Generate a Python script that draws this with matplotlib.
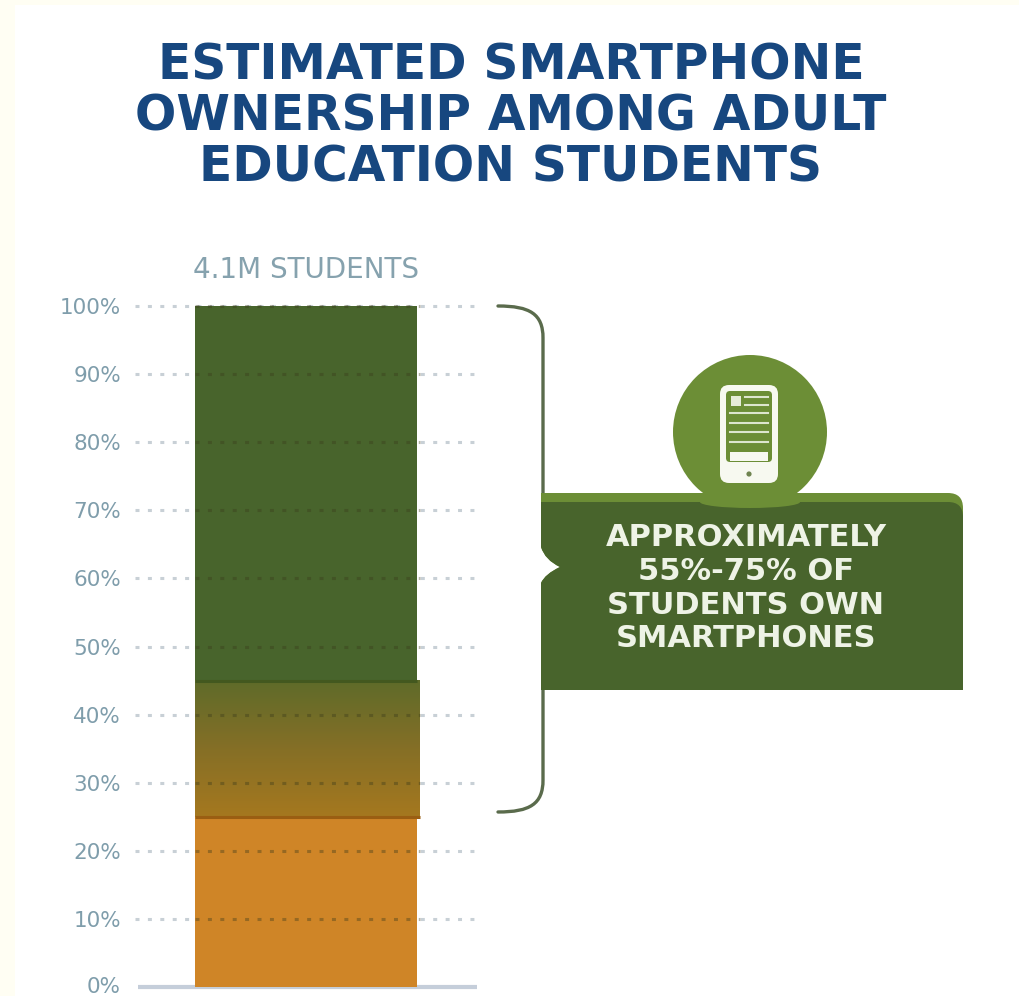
import numpy as np
import matplotlib
matplotlib.use("Agg")
import matplotlib.pyplot as plt
from matplotlib.colors import LinearSegmentedColormap
from matplotlib.patches import Circle, Ellipse, FancyBboxPatch, PathPatch, Rectangle
from matplotlib.path import Path
from matplotlib.transforms import ScaledTranslation

# ---------- data ----------
title_lines = ["ESTIMATED SMARTPHONE", "OWNERSHIP AMONG ADULT", "EDUCATION STUDENTS"]
category = ["4.1M STUDENTS"]
tick_values = [0, 10, 20, 30, 40, 50, 60, 70, 80, 90, 100]
tick_labels = ["0%", "10%", "20%", "30%", "40%", "50%", "60%", "70%", "80%", "90%", "100%"]
no_phone_top = 25
uncertain_top = 45
total = 100
brace_low = 25.7
callout_lines = ["APPROXIMATELY", "55%-75% OF", "STUDENTS OWN", "SMARTPHONES"]

# ---------- colours ----------
CREAM = "#FFFEF3"
NAVY = "#17477F"
TICK = "#7F9DAB"
DARK_GREEN = "#48642C"
LIGHT_GREEN = "#6C8E36"
ORANGE = "#CF8527"
W, H = 1019, 996
FONT = "DejaVu Sans"

fig = plt.figure(figsize=(W / 100, H / 100), dpi=100, facecolor=CREAM)

# page-pixel overlay for the panel, title and callout
bg = fig.add_axes([0, 0, 1, 1], zorder=0)
bg.set_xlim(0, W)
bg.set_ylim(H, 0)
bg.axis("off")
bg.add_patch(Rectangle((15, 5), W - 15, H - 5, fc="white", ec="none"))

for text, y in zip(title_lines, (65, 116, 167)):
    bg.text(511, y, text, ha="center", va="center", color=NAVY,
            fontsize=35, fontweight="bold", family=FONT)

# chart axes
ax = fig.add_axes([135 / W, (H - 987) / H, 342 / W, 681 / H], zorder=1)
ax.patch.set_alpha(0)
half = 171 / 222
ax.set_xlim(-half, half)
ax.set_ylim(0, total)
for s in ax.spines.values():
    s.set_visible(False)

x = [0]
ax.bar(x, [no_phone_top], width=1, color=ORANGE, zorder=2)
ax.bar(x, [total - uncertain_top], bottom=[uncertain_top], width=1, color=DARK_GREEN, zorder=2)

grad = LinearSegmentedColormap.from_list("g", ["#A5781F", "#856F26", "#5F6B2A"])
band = np.linspace(0, 1, 64).reshape(-1, 1)
ax.imshow(band, origin="lower", cmap=grad, aspect="auto", zorder=2,
          extent=(-0.5, 0.5 + 3 / 222, no_phone_top, uncertain_top))
ax.set_xlim(-half, half)
ax.set_ylim(0, total)
ax.hlines([uncertain_top], -0.5, 0.5, color="#43581F", lw=2.2, zorder=3)
ax.hlines([no_phone_top], -0.5, 0.5 + 3 / 222, color="#9A5E12", lw=2.2, zorder=3)

# dotted gridlines: pale on the page, darker where they cross the bar
grid = tick_values[1:]
dots = (0, (1.3, 2.76))
ax.hlines(grid, -half, half, color="#C8D0D6", lw=2.2, linestyles=[dots], zorder=1, clip_on=False)
ax.hlines(grid, -0.5, 0.5 + 3 / 222, color="#3A3A1A", alpha=0.38, lw=2.2, linestyles=[dots],
          zorder=4, clip_on=False)
ax.hlines([0], -half + 3 / 222, half, color="#C5CEDA", lw=3, zorder=1, clip_on=False)

ax.set_yticks(tick_values, tick_labels, color=TICK, fontsize=15.5, family=FONT)
ax.tick_params(axis="y", length=0, pad=10)
for lab in ax.get_yticklabels():
    lab.set_verticalalignment("center_baseline")
ax.set_xticks(x, category, color="#86A2AE", fontsize=20, family=FONT)
ax.tick_params(axis="x", length=0, bottom=False, labelbottom=False, top=False,
               labeltop=True, pad=16)
# keep the lowest label inside the page
first = ax.yaxis.get_major_ticks()[0].label1
first.set_transform(first.get_transform() + ScaledTranslation(0, 2.5 / 100, fig.dpi_scale_trans))


# brace and callout, positioned from the axis scale
def value_y(v):
    return 987 - v * 6.81


top_y, low_y = value_y(total), value_y(brace_low)
mid_y = 567
brace = Path(
    [(498, top_y), (530, top_y), (543, top_y + 8), (543, top_y + 32), (543, 494),
     (543, 690), (543, low_y - 32), (543, low_y - 8), (530, low_y), (498, low_y)],
    [Path.MOVETO, Path.CURVE4, Path.CURVE4, Path.CURVE4, Path.LINETO,
     Path.MOVETO, Path.LINETO, Path.CURVE4, Path.CURVE4, Path.CURVE4])
bg.add_patch(PathPatch(brace, fc="none", ec="#5A6B4C", lw=2.4, capstyle="round", zorder=3))

# circle behind the tab
bg.add_patch(Circle((750, 432), 77, fc=LIGHT_GREEN, ec="none", zorder=4))


def tab(top, color, z):
    verts = [(541, top), (948, top), (963, top), (963, top + 15), (963, 690), (541, 690),
             (541, mid_y + 16), (545, mid_y + 7), (560, mid_y),
             (545, mid_y - 7), (541, mid_y - 20), (541, top), (541, top)]
    codes = [Path.MOVETO, Path.LINETO, Path.CURVE3, Path.CURVE3, Path.LINETO, Path.LINETO,
             Path.LINETO, Path.CURVE3, Path.CURVE3, Path.CURVE3, Path.CURVE3,
             Path.LINETO, Path.CLOSEPOLY]
    bg.add_patch(PathPatch(Path(verts, codes), fc=color, ec="none", zorder=z))


tab(493, LIGHT_GREEN, 5)
tab(502, DARK_GREEN, 6)
# circle's lower lip overlapping the tab
bg.add_patch(Ellipse((750, 502), 100, 12, fc=LIGHT_GREEN, ec="none", zorder=7))

for text, y in zip(callout_lines, (537, 571, 605, 638)):
    bg.text(746, y, text, ha="center", va="center", color="#EEF3E6",
            fontsize=22, fontweight="bold", family=FONT, zorder=8)

# phone icon
bg.add_patch(FancyBboxPatch((720, 385), 58, 98, boxstyle="round,pad=0,rounding_size=9",
                            fc="#F7F9F0", ec="none", zorder=8))
bg.add_patch(FancyBboxPatch((726, 391), 46, 71, boxstyle="round,pad=0,rounding_size=4",
                            fc=LIGHT_GREEN, ec="none", zorder=9))
bg.add_patch(Rectangle((730, 452), 38, 9, fc="#F7F9F0", ec="none", zorder=10))
bg.add_patch(Rectangle((731, 396), 10, 10, fc="#E6ECD8", ec="none", zorder=10))
bg.add_patch(Circle((749, 474), 2.6, fc="#6F8450", ec="none", zorder=10))
for x0, y0 in ((745, 397), (745, 405), (730, 413), (730, 423), (730, 432), (730, 442)):
    bg.plot([x0, 768], [y0, y0], color="#DDE6CE", lw=1.5, zorder=10)

fig.savefig("out.png", dpi=100, facecolor=CREAM)
